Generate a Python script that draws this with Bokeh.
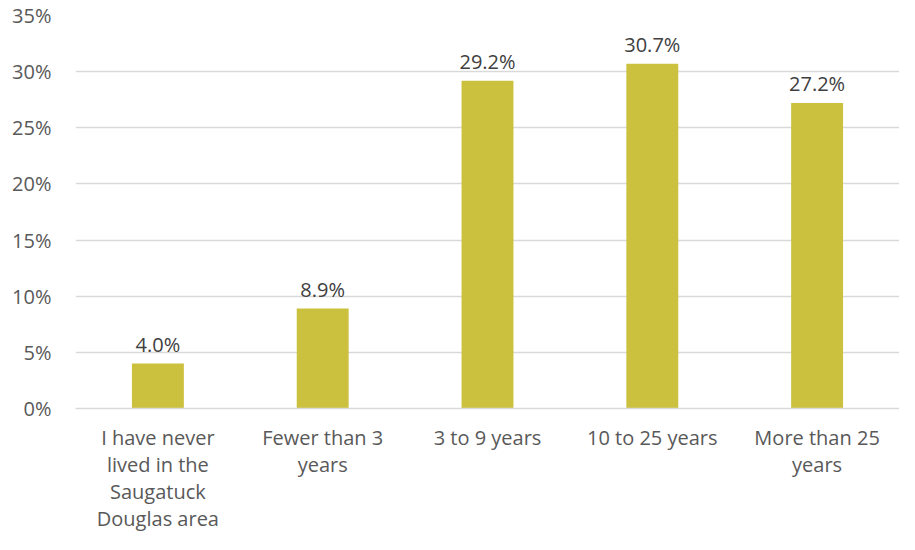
from bokeh.plotting import figure
from bokeh.models import ColumnDataSource, Range1d, FixedTicker, LabelSet
from bokeh.core.properties import value
from bokeh.embed import file_html
from bokeh.resources import INLINE

categories = ["I have never\nlived in the\nSaugatuck\nDouglas area",
              "Fewer than 3\nyears", "3 to 9 years", "10 to 25 years",
              "More than 25\nyears"]
values = [4.0, 8.9, 29.2, 30.7, 27.2]
value_labels = ["4.0%", "8.9%", "29.2%", "30.7%", "27.2%"]
y_ticks = [0, 5, 10, 15, 20, 25, 30, 35]
y_tick_labels = ["0%", "5%", "10%", "15%", "20%", "25%", "30%", "35%"]

FONT = "Open Sans"

src = ColumnDataSource(dict(cat=categories, val=values, lab=value_labels))

p = figure(x_range=categories, y_range=Range1d(0, 35), width=899, height=534,
           output_backend="svg", toolbar_location=None,
           min_border_left=75, min_border_right=0, min_border_top=15,
           min_border_bottom=120)
p.outline_line_color = None
p.background_fill_color = "white"
p.border_fill_color = "white"

p.vbar(x="cat", top="val", width=0.315, source=src, fill_color="#CCC13F",
       line_color=None)

labels = LabelSet(x="cat", y="val", text="lab", source=src, text_align="center",
                  text_baseline="bottom", y_offset=6, text_font=value(FONT),
                  text_font_size="20px", text_color="#404040")
p.add_layout(labels)

p.xgrid.grid_line_color = None
p.ygrid.grid_line_color = "#D9D9D9"
p.ygrid.grid_line_width = 1.5
p.yaxis.ticker = FixedTicker(ticks=y_ticks)
p.yaxis.major_label_overrides = {t: l for t, l in zip(y_ticks, y_tick_labels)}
p.yaxis.axis_line_color = None
p.yaxis.major_tick_line_color = None
p.yaxis.minor_tick_line_color = None
p.yaxis.major_label_text_font = FONT
p.yaxis.major_label_text_font_size = "20px"
p.yaxis.major_label_text_color = "#595959"
p.yaxis.major_label_standoff = 18

p.xaxis.axis_line_color = "#D9D9D9"
p.xaxis.axis_line_width = 1.5
p.xaxis.major_tick_line_color = None
p.xaxis.minor_tick_line_color = None
p.xaxis.major_label_text_font = FONT
p.xaxis.major_label_text_font_size = "20px"
p.xaxis.major_label_text_color = "#595959"
p.xaxis.major_label_text_line_height = 1.0
p.xaxis.major_label_standoff = 9
p.xaxis.major_label_orientation = "horizontal"

open("out.html", "w").write(file_html(p, INLINE))
